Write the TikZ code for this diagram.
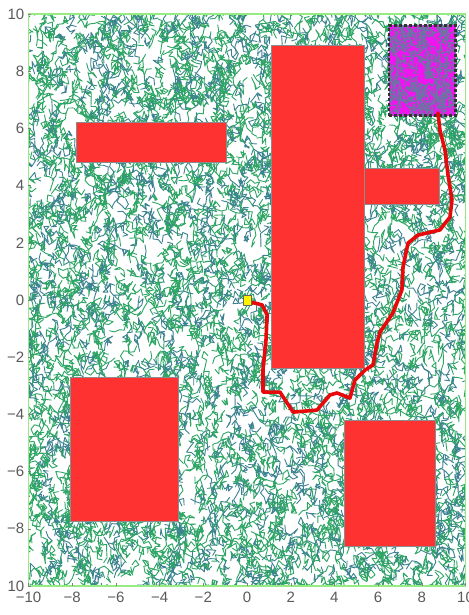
\documentclass[tikz,border=0pt]{standalone}
\usepackage{fontspec}
\setmainfont{Liberation Sans}
\definecolor{treeA}{RGB}{45,165,100}
\definecolor{treeB}{RGB}{60,130,145}
\definecolor{obst}{RGB}{255,50,50}
\definecolor{pathred}{RGB}{232,10,10}
\definecolor{framegreen}{RGB}{150,235,130}
\definecolor{goalmag}{RGB}{240,20,240}
\definecolor{goaltree}{RGB}{110,115,165}
\definecolor{ticklab}{RGB}{90,90,90}
\tikzset{
  treeseg/.style={line width=0.9pt, line cap=round, line join=round},
  obstacle/.style={fill=obst, draw=black!45, line width=0.5pt},
  goalbox/.style={draw=black!80, line width=2.4pt, dash pattern=on 3pt off 2pt},
  robotpath/.style={draw=pathred, line width=3.6pt, line join=round, line cap=round},
  startbox/.style={fill=yellow, draw=black!60, line width=0.5pt},
  ticklabel/.style={text=ticklab, font=\fontsize{15}{15}\selectfont, inner sep=0pt},
  axisframe/.style={draw=framegreen, line width=1.5pt}
}
\begin{document}
\begin{tikzpicture}[x=21.85pt, y=28.6pt]
\useasboundingbox (-247pt,-315pt) rectangle (221pt,300pt);
\fill[white] (-247pt,-315pt) rectangle (221pt,300pt);
% random tree
\begin{scope}
  \clip (-10,-10) rectangle (10,10);
  \pgfmathsetseed{7}
  \foreach \k in {1,...,12}{
    \draw[treeseg, treeA] \foreach \i in {1,...,270}{ ({rand*10.2},{rand*10.2}) \foreach \j in {1,...,5}{ -- ++({rand*180}:0.23) } };
    \draw[treeseg, treeB] \foreach \i in {1,...,140}{ ({rand*10.2},{rand*10.2}) \foreach \j in {1,...,5}{ -- ++({rand*180}:0.23) } };
  }
\end{scope}
% goal region
\begin{scope}
  \clip (6.5,6.45) rectangle (9.55,9.6);
  \fill[goalmag] (6.5,6.45) rectangle (9.55,9.6);
  \pgfmathsetseed{3}
  \draw[treeseg, goaltree] \foreach \i in {1,...,190}{ ({8.03+rand*1.7},{8.03+rand*1.7}) \foreach \j in {1,...,5}{ -- ++({rand*180}:0.22) } };
\end{scope}
\draw[goalbox] (6.5,6.45) rectangle (9.55,9.6);
% obstacles
\draw[obstacle] (-7.8,4.8) rectangle (-0.95,6.2);
\draw[obstacle] (1.1,-2.4) rectangle (5.35,8.9);
\draw[obstacle] (5.35,3.35) rectangle (8.8,4.6);
\draw[obstacle] (-8.1,-7.75) rectangle (-3.15,-2.7);
\draw[obstacle] (4.45,-8.6) rectangle (8.6,-4.2);
% path
\draw[robotpath] (0.137,-0.07) -- (0.69,-0.17) -- (0.92,-0.52) -- (0.87,-1.40) -- (0.73,-2.45) -- (0.73,-3.22)
  -- (1.51,-3.22) -- (2.11,-3.92) -- (3.20,-3.85) -- (3.80,-3.32) -- (4.12,-3.25) -- (4.71,-3.43)
  -- (4.94,-2.80) -- (5.40,-2.45) -- (5.77,-2.27) -- (5.95,-1.50) -- (6.09,-1.12) -- (6.68,-0.45)
  -- (7.09,0.35) -- (7.14,1.15) -- (7.37,1.99) -- (7.83,2.27) -- (8.83,2.45) -- (9.29,2.90)
  -- (9.38,3.50) -- (9.20,4.37) -- (9.06,5.24) -- (8.83,5.94) -- (8.74,6.54);
% start
\draw[startbox] (-0.18,-0.17) rectangle (0.18,0.17);
% frame
\draw[axisframe] (-10,-10) rectangle (10,10);
% ticks and labels
\foreach \v/\t in {-10/−10,-8/−8,-6/−6,-4/−4,-2/−2,0/0,2/2,4/4,6/6,8/8,10/10}{
  \draw[black!50, line width=0.4pt] (\v,-10) -- ++(0,3pt);
  \node[ticklabel, anchor=north] (xl\v) at ([yshift=-6pt]\v,-10) {\t};
}
\foreach \v/\t in {-10/10,-8/−8,-6/−6,-4/−4,-2/−2,0/0,2/2,4/4,6/6,8/8,10/10}{
  \draw[black!50, line width=0.4pt] (-10,\v) -- ++(3pt,0);
  \node[ticklabel, anchor=east] (yl\v) at ([xshift=-4pt]-10,\v) {\t};
}
\end{tikzpicture}
\end{document}
